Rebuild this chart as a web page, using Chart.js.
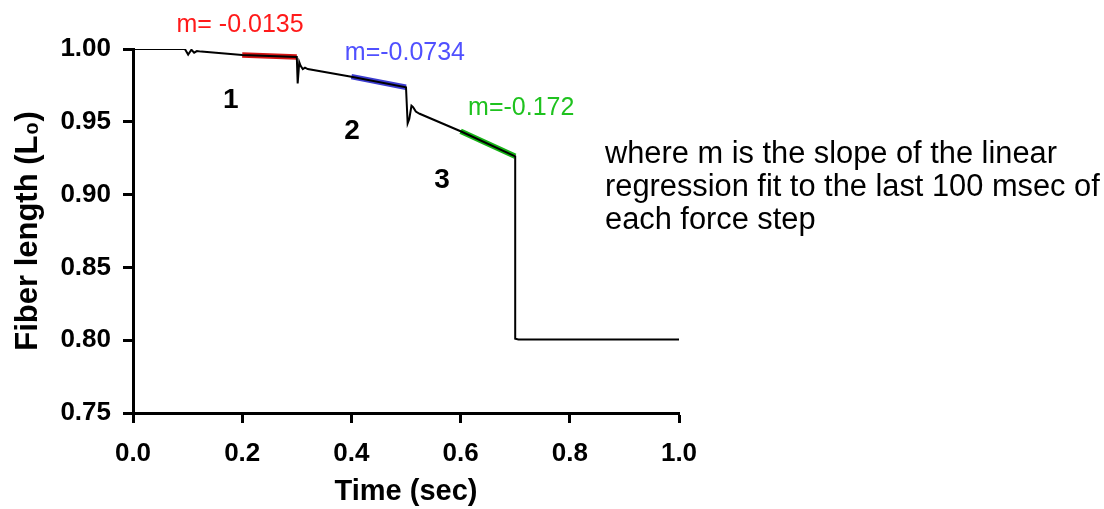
<!DOCTYPE html>
<html>
<head>
<meta charset="utf-8">
<script src="https://cdn.jsdelivr.net/npm/chart.js@4/dist/chart.umd.min.js"></script>
<style>
  html, body { margin: 0; padding: 0; background: #fff; }
</style>
</head>
<body>
<canvas id="stepChart" width="1104" height="509"></canvas>
<script>
// trace: time (sec) and fiber length (L0)
const traceTime = [0, 0.095, 0.101, 0.107, 0.112, 0.117, 0.125, 0.200, 0.300,
  0.3016, 0.3045, 0.307, 0.311, 0.315, 0.320, 0.400, 0.500,
  0.503, 0.506, 0.510, 0.513, 0.518, 0.525, 0.600, 0.700, 0.700, 0.706, 1.000];
const traceLength = [1.000, 1.000, 0.9962, 0.9995, 0.9975, 0.9986, 0.9982, 0.9959, 0.9945,
  0.9764, 0.9910, 0.9885, 0.9862, 0.9872, 0.9862, 0.9810, 0.9737,
  0.9490, 0.9520, 0.9610, 0.9600, 0.9570, 0.9555, 0.9435, 0.9263, 0.8010, 0.8005, 0.8005];

// linear fits over the last 100 msec of each force step
const fitTime = [[0.2, 0.3], [0.4, 0.5], [0.6, 0.7]];
const fitLength = [[0.9959, 0.9945], [0.9810, 0.9737], [0.9435, 0.9263]];
const fitColors = ['#d41414', '#3c3cd0', '#16b416'];

// slope labels and step numbers (anchored in data units)
const slopeLabels = ['m= -0.0135', 'm=-0.0734', 'm=-0.172'];
const slopeLabelX = [0.196, 0.498, 0.711];
const slopeLabelY = [1.0115, 0.9924, 0.9547];
const slopeLabelColors = ['#ff1a1a', '#5050ff', '#1fc21f'];
const stepNames = ['1', '2', '3'];
const stepNameX = [0.179, 0.401, 0.566];
const stepNameY = [0.9595, 0.9382, 0.9045];

const noteLines = [
  'where m is the slope of the linear',
  'regression fit to the last 100 msec of',
  'each force step'
];

const yTicks = [0.75, 0.80, 0.85, 0.90, 0.95, 1.00];
const xTicks = [0.0, 0.2, 0.4, 0.6, 0.8, 1.0];

const FONT = "'Liberation Sans', Arial, sans-serif";

const datasets = [];
fitTime.forEach((ts, i) => {
  datasets.push({
    data: ts.map((t, j) => ({ x: t, y: fitLength[i][j] })),
    borderColor: fitColors[i],
    borderWidth: 5.5,
    pointRadius: 0,
    order: 2
  });
});
datasets.push({
  data: traceTime.map((t, i) => ({ x: t, y: traceLength[i] })),
  borderColor: '#000',
  borderWidth: 2,
  pointRadius: 0,
  tension: 0,
  order: 1
});

const textPlugin = {
  id: 'textPlugin',
  afterDraw(chart) {
    const ctx = chart.ctx;
    const xs = chart.scales.x, ys = chart.scales.y;
    ctx.save();
    ctx.textAlign = 'center';
    ctx.textBaseline = 'alphabetic';
    ctx.font = '25px ' + FONT;
    slopeLabels.forEach((s, i) => {
      ctx.fillStyle = slopeLabelColors[i];
      ctx.fillText(s, xs.getPixelForValue(slopeLabelX[i]), ys.getPixelForValue(slopeLabelY[i]));
    });
    ctx.font = 'bold 28px ' + FONT;
    ctx.fillStyle = '#000';
    stepNames.forEach((s, i) => {
      ctx.fillText(s, xs.getPixelForValue(stepNameX[i]), ys.getPixelForValue(stepNameY[i]));
    });
    // note to the right of the plot
    ctx.textAlign = 'left';
    ctx.font = '30.8px ' + FONT;
    noteLines.forEach((line, i) => {
      ctx.fillText(line, 605, 163 + i * 33);
    });
    ctx.restore();
  }
};

new Chart(document.getElementById('stepChart'), {
  type: 'line',
  data: { datasets: datasets },
  options: {
    responsive: false,
    animation: false,
    layout: { padding: { left: 0, right: 425, top: 49, bottom: 0 } },
    plugins: { legend: { display: false }, tooltip: { enabled: false } },
    scales: {
      x: {
        type: 'linear',
        min: 0, max: 1,
        afterBuildTicks: s => { s.ticks = xTicks.map(v => ({ value: v })); },
        afterFit: s => { s.height = 96; },
        ticks: {
          color: '#000',
          font: { family: FONT, size: 26, weight: 'bold' },
          padding: 15,
          maxRotation: 0,
          callback: v => Number(v).toFixed(1)
        },
        grid: { drawOnChartArea: false, drawTicks: true, tickLength: 10, tickWidth: 3, tickColor: '#000' },
        border: { display: true, color: '#000', width: 3 },
        title: {
          display: true, text: 'Time (sec)', color: '#000',
          font: { family: FONT, size: 29, weight: 'bold' },
          padding: { top: 0, bottom: 0 }
        }
      },
      y: {
        min: 0.75, max: 1.0,
        afterBuildTicks: s => { s.ticks = yTicks.map(v => ({ value: v })); },
        afterFit: s => { s.width = 133; },
        ticks: {
          color: '#000',
          font: { family: FONT, size: 26, weight: 'bold' },
          padding: 12,
          callback: v => Number(v).toFixed(2)
        },
        grid: { drawOnChartArea: false, drawTicks: true, tickLength: 10, tickWidth: 3, tickColor: '#000' },
        border: { display: true, color: '#000', width: 3 },
        title: {
          display: true, text: 'Fiber length (L₀)', color: '#000',
          font: { family: FONT, size: 31, weight: 'bold' },
          padding: { top: 10, bottom: 0 }
        }
      }
    }
  },
  plugins: [textPlugin]
});
</script>
</body>
</html>
